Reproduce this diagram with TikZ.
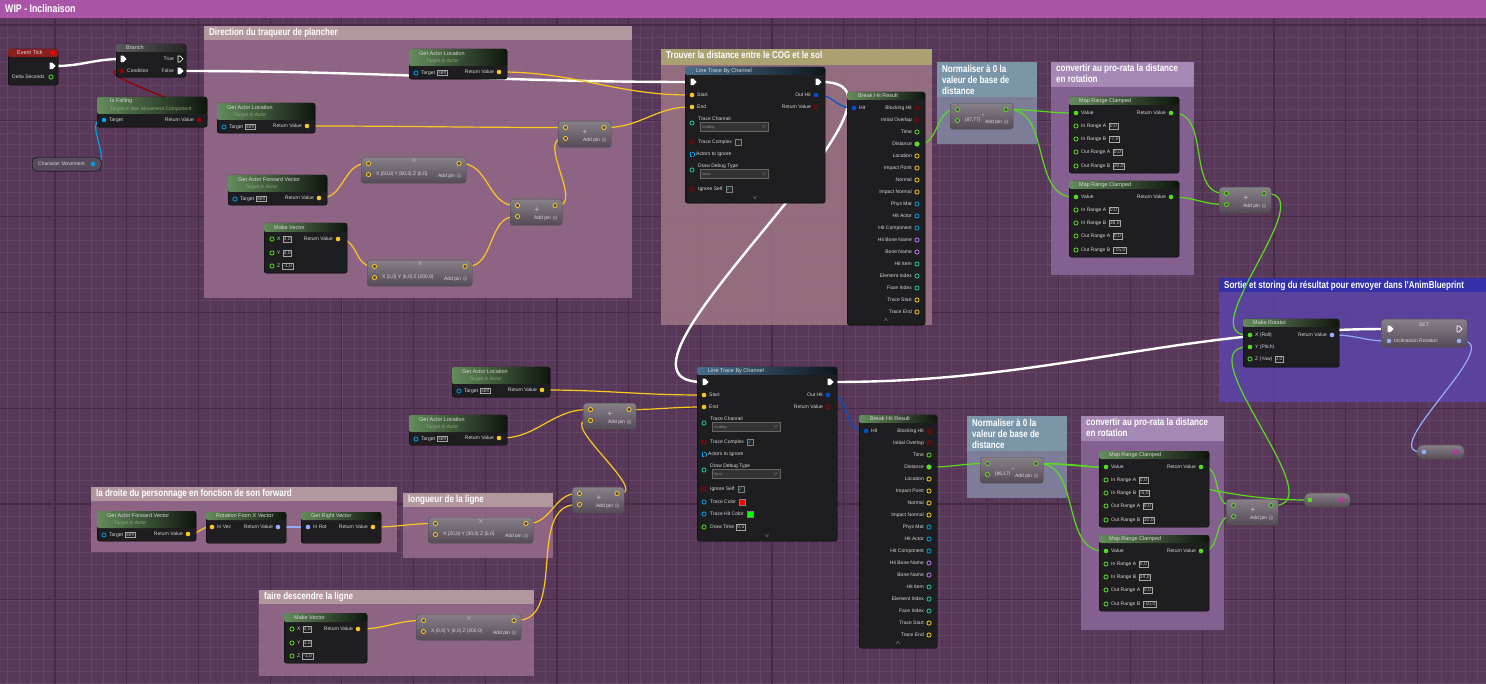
\documentclass[tikz,border=0pt]{standalone}
\usepackage{amssymb}
\usepackage{fontspec}
\setmainfont{Liberation Sans}
\newfontfamily\cmtfont{Liberation Sans}[FakeStretch=0.8]
\usetikzlibrary{shapes.symbols,positioning}

\definecolor{bgc}{RGB}{88,56,88}
\definecolor{gridc}{RGB}{100,68,100}
\definecolor{majc}{RGB}{70,42,70}
\definecolor{wipc}{RGB}{170,86,168}
\definecolor{cmtpink}{RGB}{152,108,142}
\definecolor{cmtbar}{RGB}{178,152,158}
\definecolor{cmtbeige}{RGB}{158,118,134}
\definecolor{cmtyel}{RGB}{170,160,112}
\definecolor{cmtblue}{RGB}{122,150,168}
\definecolor{cmtbluebody}{RGB}{132,138,166}
\definecolor{cmtlavbar}{RGB}{166,136,180}
\definecolor{cmtlav}{RGB}{140,104,156}
\definecolor{cmtout}{RGB}{52,48,170}
\definecolor{cmtoutbody}{RGB}{92,68,168}
\definecolor{nodebg}{RGB}{30,29,32}
\definecolor{hdgreen}{RGB}{100,140,92}
\definecolor{hdblue}{RGB}{72,110,140}
\definecolor{hdred}{RGB}{140,30,30}
\definecolor{opbg}{RGB}{84,74,86}
\definecolor{varbg}{RGB}{86,74,92}
\definecolor{subc}{RGB}{140,176,120}
\definecolor{vecc}{RGB}{250,200,30}
\definecolor{fltc}{RGB}{90,220,30}
\definecolor{objc}{RGB}{0,160,230}
\definecolor{hitc}{RGB}{0,80,210}
\definecolor{rotc}{RGB}{150,172,250}
\definecolor{boolc}{RGB}{150,0,0}
\definecolor{namec}{RGB}{190,120,255}
\definecolor{intc}{RGB}{30,200,160}
\definecolor{strc}{RGB}{230,20,180}

\pgfdeclarelayer{back}
\pgfdeclarelayer{wires}
\pgfsetlayers{back,wires,main}

\tikzset{
  bpbody/.style={draw=black,fill=nodebg,rounded corners=2.5pt,anchor=north west,inner sep=0pt},
  opbody/.style={draw=black!70,top color=opbg!70!white,bottom color=opbg,rounded corners=3pt,anchor=north west,inner sep=0pt},
  hdr/.style={left color=hdgreen,right color=hdgreen!15!black,rounded corners=2pt},
  ttl/.style={anchor=west,inner sep=0pt,font=\fontsize{5.5}{6}\selectfont,text=white!85!black},
  sub/.style={anchor=west,inner sep=0pt,font=\fontsize{5}{6}\selectfont\itshape,text=subc},
  lbl/.style={anchor=west,inner sep=0pt,font=\fontsize{5}{6}\selectfont,text=white!85!black},
  lblr/.style={lbl,anchor=east},
  fld/.style={anchor=west,draw=gray!70,line width=.3pt,inner sep=.8pt,font=\fontsize{5}{5.5}\selectfont,text=white!80!black},
  sym/.style={inner sep=0pt,font=\fontsize{8}{8}\selectfont,text=white!80!black},
  ctl/.style={anchor=north west,align=left,inner sep=0pt,text=white,font=\cmtfont\bfseries\fontsize{10}{11}\selectfont},
  pdot/.style={circle,fill=#1,inner sep=0pt,minimum size=4.6pt},
  pring/.style={circle,draw=#1,line width=.8pt,inner sep=0pt,minimum size=4.2pt},
  exe/.style={signal,signal to=east,fill=white,inner sep=0pt,minimum width=6pt,minimum height=6.5pt},
  exo/.style={signal,signal to=east,draw=white,line width=.7pt,inner sep=0pt,minimum width=5pt,minimum height=6pt},
  drop/.style={anchor=west,draw=black!60,fill=black!80,minimum height=9pt,text width=64pt,inner sep=2pt,font=\fontsize{3.5}{4}\selectfont,text=gray!80},
  chk/.style={draw=black!50,fill=black!85,minimum size=6pt,inner sep=0pt,text=objc,font=\fontsize{5}{5}\selectfont},
  swatch/.style={draw=black!50,minimum size=6pt,inner sep=0pt},
  wire/.style={draw=#1,line width=1.2pt,out=0,in=180},
  exw/.style={draw=white,line width=2.4pt,out=0,in=180}
}

\newcommand\cmt[8]{%
  \fill[#7,fill opacity=.85] (#1,#2) rectangle (#3,#4);
  \fill[#6] (#1,#2) rectangle (#3,#2+#5);
  \node[ctl] at (#1+5,#2+2.5) {#8};}

\newcommand\getnode[5]{%
  \node[bpbody,minimum width=#4pt,minimum height=30pt] (#1) at (#2,#3) {};
  \shade[hdr] (#2,#3) rectangle ++(#4,17);
  \node[ttl] at (#2+10,#3+4.5) {#5};
  \node[sub] at (#2+17,#3+12.5) {Target is Actor};
  \node[pring=objc] (#1-t) at (#2+7,#3+24) {};
  \node[lbl] (#1-tl) at (#2+12,#3+24) {Target};
  \node[fld,right=2pt of #1-tl] {self};
  \node[pdot=vecc] (#1-r) at (#2+#4-8,#3+23) {};
  \node[lblr] at (#2+#4-13,#3+23) {Return Value};}

\newcommand\opnode[9]{%
  \node[opbody,minimum width=#4pt,minimum height=26pt] (#1) at (#2,#3) {};
  \node[pring=#5,fill=opbg] (#1-a) at (#2+7.5,#3+6.5) {};
  \node[pring=#5,fill=opbg] (#1-b) at (#2+7.5,#3+17.5) {};
  \node[pring=#5,fill=opbg] (#1-o) at (#2+#4-7,#3+6.5) {};
  \node[lbl] (#1-f) at (#2+15,#3+17.5) {#6};
  \node[sym] (#1-s) at (#2+#8,#3+#9) {#7};
  \node[lblr] (#1-p) at (#2+#4-4,#3+19) {Add pin $\otimes$};}

\newcommand\makevec[3]{%
  \node[bpbody,minimum width=83pt,minimum height=50pt] (#1) at (#2,#3) {};
  \shade[hdr] (#2,#3) rectangle ++(83,9);
  \node[ttl] at (#2+10,#3+4.5) {Make Vector};
  \node[pring=fltc] (#1-x) at (#2+8,#3+16) {};
  \node[lbl] (#1-xl) at (#2+13,#3+16) {X};
  \node[fld,right=2pt of #1-xl] {0,0};
  \node[pring=fltc] (#1-y) at (#2+8,#3+30) {};
  \node[lbl] (#1-yl) at (#2+13,#3+30) {Y};
  \node[fld,right=2pt of #1-yl] {0,0};
  \node[pring=fltc] (#1-z) at (#2+8,#3+43) {};
  \node[lbl] (#1-zl) at (#2+13,#3+43) {Z};
  \node[fld,right=2pt of #1-zl] {-1,0};
  \node[pdot=vecc] (#1-r) at (#2+74,#3+16) {};
  \node[lblr] at (#2+69,#3+16) {Return Value};}

\newcommand\maprange[5]{%
  \node[bpbody,minimum width=110pt,minimum height=76pt] (#1) at (#2,#3) {};
  \shade[hdr] (#2,#3) rectangle ++(110,8);
  \node[ttl] at (#2+10,#3+4) {Map Range Clamped};
  \node[pdot=fltc] (#1-v) at (#2+7,#3+16) {};
  \node[lbl] at (#2+12,#3+16) {Value};
  \node[pdot=fltc] (#1-r) at (#2+102,#3+16) {};
  \node[lblr] at (#2+97,#3+16) {Return Value};
  \node[pring=fltc] (#1-ia) at (#2+7,#3+29) {};
  \node[lbl] at (#2+12,#3+29) {In Range A};
  \node[fld] at (#2+40,#3+29) {0,0};
  \node[pring=fltc] (#1-ib) at (#2+7,#3+42) {};
  \node[lbl] at (#2+12,#3+42) {In Range B};
  \node[fld] at (#2+40,#3+42) {#4};
  \node[pring=fltc] (#1-oa) at (#2+7,#3+55) {};
  \node[lbl] at (#2+12,#3+55) {Out Range A};
  \node[fld] at (#2+44,#3+55) {0,0};
  \node[pring=fltc] (#1-ob) at (#2+7,#3+69) {};
  \node[lbl] at (#2+12,#3+69) {Out Range B};
  \node[fld] at (#2+44,#3+69) {#5};}

\newcommand\breakhit[3]{%
  \node[bpbody,minimum width=78pt,minimum height=233pt] (#1) at (#2,#3) {};
  \shade[hdr] (#2,#3) rectangle ++(78,8);
  \node[ttl] at (#2+11,#3+4) {Break Hit Result};
  \node[pdot=hitc] (#1-h) at (#2+7,#3+16) {};
  \node[lbl] at (#2+12,#3+16) {Hit};
  \foreach \t/\c [count=\i from 0] in {Blocking Hit/boolc,Initial Overlap/boolc,Time/fltc,Distance/fltc,Location/vecc,Impact Point/vecc,Normal/vecc,Impact Normal/vecc,Phys Mat/objc,Hit Actor/objc,Hit Component/objc,Hit Bone Name/namec,Bone Name/namec,Hit Item/intc,Element Index/intc,Face Index/intc,Trace Start/vecc,Trace End/vecc}{
    \node[pring=\c] (#1-\i) at (#2+70,#3+16+12*\i) {};
    \node[lblr] at (#2+65,#3+16+12*\i) {\t};}
  \node[pdot=fltc] at (#1-3) {};
  \node[lbl,anchor=center] at (#2+39,#3+228) {$\wedge$};}

\newcommand\linetrace[5]{%
  \node[bpbody,minimum width=140pt,minimum height=#4pt] (#1) at (#2,#3) {};
  \shade[left color=hdblue,right color=hdblue!20!black,rounded corners=2pt] (#2,#3) rectangle ++(140,8);
  \node[ttl] at (#2+11,#3+4) {Line Trace By Channel};
  \node[exe] (#1-in) at (#2+7,#3+15) {};
  \node[exe] (#1-out) at (#2+132,#3+15) {};
  \node[pdot=vecc] (#1-s) at (#2+7,#3+28) {};
  \node[lbl] at (#2+12,#3+28) {Start};
  \node[pdot=vecc] (#1-e) at (#2+7,#3+40) {};
  \node[lbl] at (#2+12,#3+40) {End};
  \node[pdot=hitc] (#1-h) at (#2+131,#3+28) {};
  \node[lblr] at (#2+126,#3+28) {Out Hit};
  \node[pring=boolc] (#1-rv) at (#2+131,#3+40) {};
  \node[lblr] at (#2+126,#3+40) {Return Value};
  \node[pring=intc] (#1-tc) at (#2+7,#3+56) {};
  \node[lbl] at (#2+13,#3+52) {Trace Channel};
  \node[drop] at (#2+15,#3+60) {Visibility\hfill$\vee$};
  \node[pring=boolc] (#1-cx) at (#2+7,#3+75) {};
  \node[lbl] (#1-cxl) at (#2+13,#3+75) {Trace Complex};
  \node[chk,right=3pt of #1-cxl] {#5};
  \node[draw=objc,densely dotted,minimum size=4pt,inner sep=0pt] (#1-ai) at (#2+7,#3+87) {};
  \node[lbl] at (#2+11,#3+87) {Actors to Ignore};
  \node[pring=intc] (#1-dd) at (#2+7,#3+103) {};
  \node[lbl] at (#2+13,#3+99) {Draw Debug Type};
  \node[drop] at (#2+15,#3+107) {None\hfill$\vee$};
  \node[pring=boolc] (#1-is) at (#2+7,#3+122) {};
  \node[lbl] (#1-isl) at (#2+13,#3+122) {Ignore Self};
  \node[chk,right=3pt of #1-isl] {$\checkmark$};
  \node[lbl,anchor=center] at (#2+70,#3+#4-5) {$\vee$};}

\begin{document}
\begin{tikzpicture}[x=1pt,y=-1pt]
  \useasboundingbox (0,0) rectangle (1486,684);

  \begin{pgfonlayer}{back}
    \fill[bgc] (0,0) rectangle (1486,684);
    \foreach \i in {-4,...,120} \draw[gridc,line width=.5pt] (55+11.95*\i,18) -- ++(0,666);
    \foreach \j in {0,...,56} \draw[gridc,line width=.5pt] (0,25+11.975*\j) -- ++(1486,0);
    \foreach \i in {0,...,19} \draw[majc,line width=1.2pt] (55+71.7*\i,18) -- ++(0,666);
    \foreach \j in {0,...,6} \draw[majc,line width=1.2pt] (0,25+95.8*\j) -- ++(1486,0);
    \fill[wipc] (0,0) rectangle (1486,18);
    \node[ctl,anchor=west,font=\cmtfont\bfseries\fontsize{11}{12}\selectfont] (wip) at (5,9) {WIP - Inclinaison};

    \cmt{204}{26}{632}{298}{14}{cmtbar}{cmtpink}{Direction du traqueur de plancher}
    \cmt{661}{49}{932}{325}{16}{cmtyel}{cmtbeige}{Trouver la distance entre le COG et le sol}
    \cmt{937}{62}{1037}{144}{35}{cmtblue}{cmtbluebody}{Normaliser à 0 la\\valeur de base de\\distance}
    \cmt{1051}{62}{1194}{275}{25}{cmtlavbar}{cmtlav}{convertir au pro-rata la distance\\en rotation}
    \cmt{1219}{278}{1486}{402}{14}{cmtout}{cmtoutbody}{Sortie et storing du résultat pour envoyer dans l'AnimBlueprint}
    \cmt{91}{487}{397}{552}{14}{cmtbar}{cmtpink}{la droite du personnage en fonction de son forward}
    \cmt{403}{493}{553}{558}{14}{cmtbar}{cmtpink}{longueur de la ligne}
    \cmt{259}{590}{534}{676}{14}{cmtbar}{cmtpink}{faire descendre la ligne}
    \cmt{967}{416}{1067}{498}{35}{cmtblue}{cmtbluebody}{Normaliser à 0 la\\valeur de base de\\distance}
    \cmt{1081}{416}{1224}{630}{25}{cmtlavbar}{cmtlav}{convertir au pro-rata la distance\\en rotation}
  \end{pgfonlayer}

  \node[bpbody,minimum width=50pt,minimum height=36pt] (tick) at (8,49) {};
  \fill[hdred,rounded corners=2pt] (8,49) rectangle (58,57);
  \node[ttl] at (17,53) {Event Tick};
  \node[fill=red,inner sep=0pt,minimum size=4pt] (tick-sq) at (53,53) {};
  \node[exe] (tick-x) at (51,66) {};
  \node[lbl] at (12,77) {Delta Seconds};
  \node[pring=fltc] (tick-d) at (51,77) {};

  \node[bpbody,minimum width=70pt,minimum height=33pt] (branch) at (116,44) {};
  \shade[left color=gray!70!black,right color=black!85,rounded corners=2pt] (116,44) rectangle (186,52);
  \node[ttl] at (126,48) {Branch};
  \node[exe] (br-in) at (122,59) {};
  \node[exo] (br-t) at (179,59) {};
  \node[lblr] at (174,59) {True};
  \node[pdot=boolc] (br-c) at (122,71) {};
  \node[lbl] at (127,71) {Condition};
  \node[exe] (br-f) at (179,71) {};
  \node[lblr] at (174,71) {False};

  \node[bpbody,minimum width=110pt,minimum height=30pt] (fall) at (97,97) {};
  \shade[hdr] (97,97) rectangle (207,114);
  \node[ttl] at (110,101) {Is Falling};
  \node[sub] at (110,109) {Target is Nav Movement Component};
  \node[pdot=objc] (fall-t) at (104,120) {};
  \node[lbl] at (109,120) {Target};
  \node[pdot=boolc] (fall-r) at (199,120) {};
  \node[lblr] at (194,120) {Return Value};

  \node[anchor=north west,draw=black,fill=varbg,rounded corners=5pt,minimum width=69pt,minimum height=14pt,inner sep=0pt] (cm) at (32,157) {};
  \node[lbl] at (38,164) {Character Movement};
  \node[pdot=objc] (cm-o) at (93,164) {};

  \getnode{gal1}{217}{103}{98}{Get Actor Location}
  \getnode{gal2}{409}{49}{98}{Get Actor Location}
  \getnode{gafv1}{228}{175}{99}{Get Actor Forward Vector}
  \makevec{mv1}{264}{223}
  \opnode{mul1}{361}{157}{105}{vecc}{X |50,0| Y |50,0| Z |0,0|}{$\times$}{53}{4}
  \opnode{mul2}{367}{260}{105}{vecc}{X |0,0| Y |0,0| Z |200,0|}{$\times$}{53}{4}
  \opnode{add1}{510}{199}{52}{vecc}{}{+}{27}{11}
  \opnode{add2}{558}{121}{53}{vecc}{}{+}{27}{11}

  \linetrace{lt1}{685}{67}{136}{}
  \breakhit{bh1}{847}{92}
  \opnode{sub1}{950}{103}{63}{fltc}{|87,77|}{-}{33}{13}
  \maprange{mr1}{1069}{97}{-7,0}{20,0}
  \maprange{mr2}{1069}{181}{36,0}{-15,0}
  \opnode{add3}{1219}{187}{52}{fltc}{}{+}{27}{11}

  \node[bpbody,minimum width=96pt,minimum height=48pt] (rot) at (1243,319) {};
  \shade[hdr] (1243,319) rectangle ++(96,8);
  \node[ttl] at (1253,323) {Make Rotator};
  \node[pdot=fltc] (rot-x) at (1250,335) {};
  \node[lbl] at (1255,335) {X (Roll)};
  \node[pdot=fltc] (rot-y) at (1250,347) {};
  \node[lbl] at (1255,347) {Y (Pitch)};
  \node[pring=fltc] (rot-z) at (1250,359) {};
  \node[lbl] (rot-zl) at (1255,359) {Z (Yaw)};
  \node[fld,right=2pt of rot-zl] {0,0};
  \node[pdot=rotc] (rot-r) at (1332,335) {};
  \node[lblr] at (1327,335) {Return Value};

  \node[opbody,minimum width=86pt,minimum height=28pt] (set) at (1381,319) {};
  \node[lbl,anchor=center] at (1424,325) {SET};
  \node[exe] (set-in) at (1389,329) {};
  \node[exo] (set-out) at (1458,329) {};
  \node[pdot=rotc] (set-v) at (1389,341) {};
  \node[lbl] at (1394,341) {Inclinaison Rotation};
  \node[pdot=rotc] (set-o) at (1459,341) {};

  \node[opbody,minimum width=47pt,minimum height=14pt,rounded corners=5pt] (cv1) at (1417,445) {};
  \node[pdot=rotc] (cv1-i) at (1424,452) {};
  \node[sym,font=\fontsize{5}{5}\selectfont] at (1440,452) {$\cdot$};
  \node[pring=strc] (cv1-o) at (1456,452) {};

  \getnode{gal3}{452}{367}{98}{Get Actor Location}
  \getnode{gal4}{409}{415}{98}{Get Actor Location}
  \opnode{add4}{583}{403}{53}{vecc}{}{+}{27}{11}
  \linetrace{lt2}{697}{367}{174}{$\checkmark$}
  \node[pring=objc] (lt2-cc) at (704,502) {};
  \node[lbl] (lt2-ccl) at (710,502) {Trace Color};
  \node[swatch,fill=red,right=3pt of lt2-ccl] {};
  \node[pring=objc] (lt2-hc) at (704,514) {};
  \node[lbl] (lt2-hcl) at (710,514) {Trace Hit Color};
  \node[swatch,fill=green,right=3pt of lt2-hcl] {};
  \node[pring=fltc] (lt2-dt) at (704,527) {};
  \node[lbl] (lt2-dtl) at (710,527) {Draw Time};
  \node[fld,right=2pt of lt2-dtl] {0,5};

  \breakhit{bh2}{859}{415}
  \opnode{sub2}{980}{457}{63}{fltc}{|86,17|}{-}{33}{13}
  \maprange{mr3}{1099}{451}{-5,0}{10,0}
  \maprange{mr4}{1099}{535}{24,0}{-10,0}
  \opnode{add5}{1226}{499}{52}{fltc}{}{+}{27}{11}
  \node[opbody,minimum width=46pt,minimum height=14pt,rounded corners=5pt] (cv2) at (1304,493) {};
  \node[pdot=fltc] (cv2-i) at (1310,500) {};
  \node[sym,font=\fontsize{5}{5}\selectfont] at (1326,500) {$\cdot$};
  \node[pring=strc] (cv2-o) at (1342,500) {};

  \getnode{gafv2}{97}{511}{99}{Get Actor Forward Vector}
  \node[bpbody,minimum width=80pt,minimum height=31pt] (rfx) at (206,512) {};
  \shade[hdr] (206,512) rectangle ++(80,8);
  \node[ttl] at (216,516) {Rotation From X Vector};
  \node[pdot=vecc] (rfx-i) at (212,527) {};
  \node[lbl] at (217,527) {In Vec};
  \node[pdot=rotc] (rfx-r) at (278,527) {};
  \node[lblr] at (273,527) {Return Value};
  \node[bpbody,minimum width=80pt,minimum height=31pt] (grv) at (301,512) {};
  \shade[hdr] (301,512) rectangle ++(80,8);
  \node[ttl] at (311,516) {Get Right Vector};
  \node[pdot=rotc] (grv-i) at (308,527) {};
  \node[lbl] at (313,527) {In Rot};
  \node[pdot=vecc] (grv-r) at (373,527) {};
  \node[lblr] at (368,527) {Return Value};
  \opnode{mul3}{428}{517}{105}{vecc}{X |30,0| Y |30,0| Z |0,0|}{$\times$}{53}{4}
  \opnode{add6}{572}{487}{52}{vecc}{}{+}{27}{11}
  \makevec{mv2}{284}{613}
  \opnode{mul4}{416}{614}{105}{vecc}{X |0,0| Y |0,0| Z |200,0|}{$\times$}{53}{4}

  \begin{pgfonlayer}{wires}
    \path (tick-x) edge[exw] (br-in);
    \path (br-f) edge[exw] (lt1-in);
    \path (lt1-out) edge[exw] (lt2-in);
    \path (lt2-out) edge[exw] (set-in);
    \path (fall-r) edge[wire=boolc] (br-c);
    \path (cm-o) edge[wire=objc] (fall-t);
    \path (gal2-r) edge[wire=vecc] (lt1-s);
    \path (gal1-r) edge[wire=vecc] (add2-a);
    \path (add2-o) edge[wire=vecc] (lt1-e);
    \path (gafv1-r) edge[wire=vecc] (mul1-a);
    \path (mul1-o) edge[wire=vecc] (add1-a);
    \path (mv1-r) edge[wire=vecc] (mul2-a);
    \path (mul2-o) edge[wire=vecc] (add1-b);
    \path (add1-o) edge[wire=vecc] (add2-b);
    \path (lt1-h) edge[wire=hitc] (bh1-h);
    \path (bh1-3) edge[wire=fltc] (sub1-a);
    \path (sub1-o) edge[wire=fltc] (mr1-v);
    \path (sub1-o) edge[wire=fltc] (mr2-v);
    \path (mr1-r) edge[wire=fltc] (add3-a);
    \path (mr2-r) edge[wire=fltc] (add3-b);
    \path (add3-o) edge[wire=fltc] (rot-x);
    \path (rot-r) edge[wire=rotc] (set-v);
    \path (set-o) edge[wire=rotc] (cv1-i);
    \path (gal3-r) edge[wire=vecc] (lt2-s);
    \path (gal4-r) edge[wire=vecc] (add4-a);
    \path (add4-o) edge[wire=vecc] (lt2-e);
    \path (gafv2-r) edge[wire=vecc] (rfx-i);
    \path (rfx-r) edge[wire=rotc] (grv-i);
    \path (grv-r) edge[wire=vecc] (mul3-a);
    \path (mul3-o) edge[wire=vecc] (add6-a);
    \path (mv2-r) edge[wire=vecc] (mul4-a);
    \path (mul4-o) edge[wire=vecc] (add6-b);
    \path (add6-o) edge[wire=vecc] (add4-b);
    \path (lt2-h) edge[wire=hitc] (bh2-h);
    \path (bh2-3) edge[wire=fltc] (sub2-a);
    \path (sub2-o) edge[wire=fltc] (mr3-v);
    \path (sub2-o) edge[wire=fltc] (mr4-v);
    \path (sub2-o) edge[wire=fltc] (cv2-i);
    \path (mr3-r) edge[wire=fltc] (add5-a);
    \path (mr4-r) edge[wire=fltc] (add5-b);
    \path (add5-o) edge[wire=fltc] (rot-y);
  \end{pgfonlayer}
\end{tikzpicture}
\end{document}
